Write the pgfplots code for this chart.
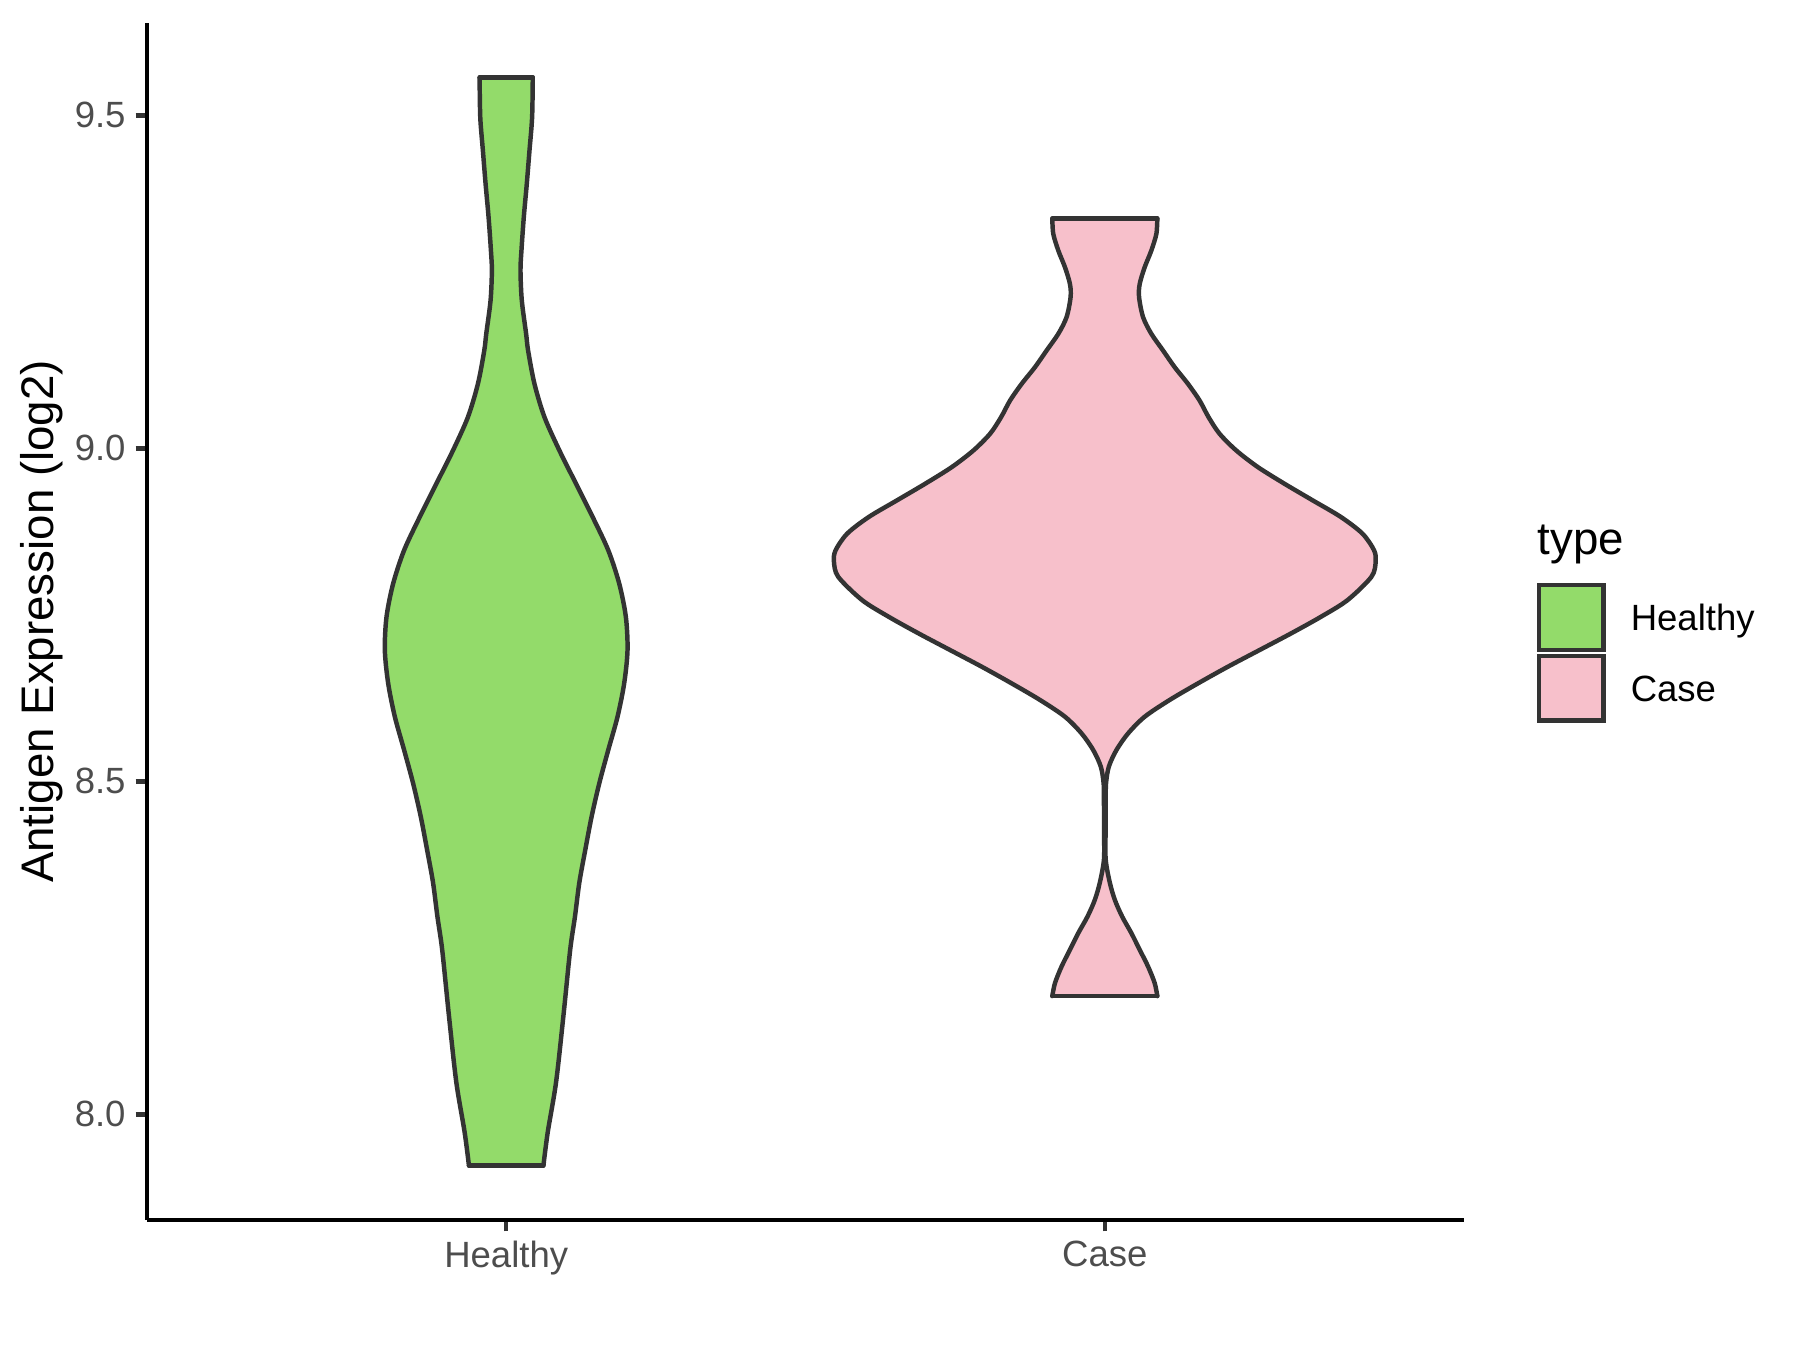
\documentclass[border=0pt]{standalone}
\usepackage{fontspec}
\setmainfont{Liberation Sans}
\usepackage{pgfplots}
\pgfplotsset{compat=1.18}
\definecolor{healthyfill}{RGB}{147,219,106}
\definecolor{casefill}{RGB}{247,192,203}
\definecolor{grey20}{RGB}{51,51,51}
\definecolor{grey30}{RGB}{77,77,77}
\begin{document}
\begin{tikzpicture}
\useasboundingbox (0,0) rectangle (432bp,324bp);
\begin{axis}[
  at={(35.28bp,31.2bp)}, anchor=south west,
  scale only axis, width=316.08bp, height=287.28bp,
  xmin=0.4, xmax=2.6, ymin=7.8413, ymax=9.6387,
  clip mode=individual,
  axis x line*=bottom, axis y line*=left,
  axis line style={black, line width=1.07bp},
  xtick={1,2}, xticklabels={Healthy,Case},
  ytick={8,8.5,9,9.5},
  y tick label style={/pgf/number format/fixed, /pgf/number format/fixed zerofill, /pgf/number format/precision=1},
  /pgf/number format/assume math mode=true,
  tick align=outside, major tick length=2.75bp,
  tick style={grey20, line width=1.07bp},
  ticklabel style={font=\fontsize{8.8}{10}\selectfont, text=grey30, inner sep=0pt},
  xticklabel style={anchor=north, yshift=-2.2bp},
  yticklabel style={anchor=east, xshift=-2.2bp},
  every axis y label/.style={at={(axis description cs:0,0.5)}, rotate=90, anchor=center, yshift=25.2bp, inner sep=0pt, font=\fontsize{11}{13}\selectfont, text=black},
  ylabel={Antigen Expression (log2)},
  legend style={at={(axis description cs:1.0552,0.5322)}, anchor=north west, draw=none, fill=none, inner sep=0pt, outer sep=0pt, row sep=0.4bp, column sep=6.0bp, font=\fontsize{8.8}{10}\selectfont, text=black, cells={anchor=base west}, nodes={inner sep=0pt}},
  outline/.style={draw=grey20, line width=1.07bp, line cap=round, line join=round, forget plot},
]
% ---------- Healthy (x = 1) ----------
\addplot[fill=healthyfill, draw=none,
  legend image code/.code={\draw[fill=healthyfill, draw=grey20, line width=1.07bp] (0.15bp,-4.6bp) rectangle (15.65bp,10.9bp);}]
coordinates {
(0.9556,9.557) (0.9567,9.497) (0.9611,9.447) (0.9656,9.397) (0.9706,9.347) (0.9745,9.297) (0.9761,9.267) (0.9739,9.222) (0.9667,9.172) (0.9634,9.147) (0.9528,9.097) (0.9361,9.047) (0.9112,8.997) (0.8834,8.947) (0.8556,8.897) (0.8295,8.847) (0.8112,8.797) (0.8001,8.747) (0.7973,8.697) (0.8029,8.647) (0.8140,8.597) (0.8295,8.547) (0.8445,8.497) (0.8573,8.447) (0.8679,8.397) (0.8778,8.348) (0.8851,8.297) (0.8931,8.247) (0.9045,8.147) (0.9167,8.048) (0.9306,7.973) (0.9378,7.923)
(1.0622,7.923) (1.0694,7.973) (1.0833,8.048) (1.0955,8.147) (1.1069,8.247) (1.1149,8.297) (1.1222,8.348) (1.1321,8.397) (1.1427,8.447) (1.1555,8.497) (1.1705,8.547) (1.1860,8.597) (1.1971,8.647) (1.2027,8.697) (1.1999,8.747) (1.1888,8.797) (1.1705,8.847) (1.1444,8.897) (1.1166,8.947) (1.0888,8.997) (1.0639,9.047) (1.0472,9.097) (1.0366,9.147) (1.0333,9.172) (1.0261,9.222) (1.0239,9.267) (1.0255,9.297) (1.0294,9.347) (1.0344,9.397) (1.0389,9.447) (1.0433,9.497) (1.0444,9.557)
} -- cycle;
\addlegendentry{Healthy}
\addplot[outline, smooth, tension=0.5] coordinates {
(0.9556,9.557) (0.9567,9.497) (0.9611,9.447) (0.9656,9.397) (0.9706,9.347) (0.9745,9.297) (0.9761,9.267) (0.9739,9.222) (0.9667,9.172) (0.9634,9.147) (0.9528,9.097) (0.9361,9.047) (0.9112,8.997) (0.8834,8.947) (0.8556,8.897) (0.8295,8.847) (0.8112,8.797) (0.8001,8.747) (0.7973,8.697) (0.8029,8.647) (0.8140,8.597) (0.8295,8.547) (0.8445,8.497) (0.8573,8.447) (0.8679,8.397) (0.8778,8.348) (0.8851,8.297) (0.8931,8.247) (0.9045,8.147) (0.9167,8.048) (0.9306,7.973) (0.9378,7.923)};
\addplot[outline, smooth, tension=0.5] coordinates {
(1.0622,7.923) (1.0694,7.973) (1.0833,8.048) (1.0955,8.147) (1.1069,8.247) (1.1149,8.297) (1.1222,8.348) (1.1321,8.397) (1.1427,8.447) (1.1555,8.497) (1.1705,8.547) (1.1860,8.597) (1.1971,8.647) (1.2027,8.697) (1.1999,8.747) (1.1888,8.797) (1.1705,8.847) (1.1444,8.897) (1.1166,8.947) (1.0888,8.997) (1.0639,9.047) (1.0472,9.097) (1.0366,9.147) (1.0333,9.172) (1.0261,9.222) (1.0239,9.267) (1.0255,9.297) (1.0294,9.347) (1.0344,9.397) (1.0389,9.447) (1.0433,9.497) (1.0444,9.557)};
\addplot[outline] coordinates {(0.9556,9.557) (1.0444,9.557)};
\addplot[outline] coordinates {(0.9378,7.923) (1.0622,7.923)};
% ---------- Case (x = 2) ----------
\addplot[fill=casefill, draw=none,
  legend image code/.code={\draw[fill=casefill, draw=grey20, line width=1.07bp] (0.15bp,-4.6bp) rectangle (15.65bp,10.9bp);}]
coordinates {
(1.9123,9.345) (1.9139,9.322) (1.9223,9.297) (1.9334,9.272) (1.9417,9.247) (1.9428,9.227) (1.9361,9.197) (1.9223,9.172) (1.9028,9.147) (1.8834,9.122) (1.8612,9.097) (1.8418,9.072) (1.8268,9.047) (1.8084,9.022) (1.7807,8.997) (1.7446,8.972) (1.7002,8.947) (1.6530,8.922) (1.6058,8.897) (1.5697,8.872) (1.5503,8.847) (1.5475,8.830) (1.5547,8.807) (1.5947,8.772) (1.6391,8.747) (1.6891,8.722) (1.7418,8.697) (1.7946,8.672) (1.8445,8.647) (1.8920,8.622) (1.9334,8.597) (1.9611,8.572) (1.9806,8.547) (1.9933,8.522) (1.9980,8.497) (1.9985,8.472) (1.9988,8.422) (1.9985,8.382) (1.9917,8.348) (1.9833,8.322) (1.9711,8.297) (1.9556,8.272) (1.9417,8.247) (1.9278,8.222) (1.9167,8.197) (1.9123,8.1775)
(2.0877,8.1775) (2.0833,8.197) (2.0722,8.222) (2.0583,8.247) (2.0444,8.272) (2.0289,8.297) (2.0167,8.322) (2.0083,8.348) (2.0015,8.382) (2.0012,8.422) (2.0015,8.472) (2.0020,8.497) (2.0067,8.522) (2.0194,8.547) (2.0389,8.572) (2.0666,8.597) (2.1080,8.622) (2.1555,8.647) (2.2054,8.672) (2.2582,8.697) (2.3109,8.722) (2.3609,8.747) (2.4053,8.772) (2.4453,8.807) (2.4525,8.830) (2.4497,8.847) (2.4303,8.872) (2.3942,8.897) (2.3470,8.922) (2.2998,8.947) (2.2554,8.972) (2.2193,8.997) (2.1916,9.022) (2.1732,9.047) (2.1582,9.072) (2.1388,9.097) (2.1166,9.122) (2.0972,9.147) (2.0777,9.172) (2.0639,9.197) (2.0572,9.227) (2.0583,9.247) (2.0666,9.272) (2.0777,9.297) (2.0861,9.322) (2.0877,9.345)
} -- cycle;
\addlegendentry{Case}
\addplot[outline, smooth, tension=0.5] coordinates {
(1.9123,9.345) (1.9139,9.322) (1.9223,9.297) (1.9334,9.272) (1.9417,9.247) (1.9428,9.227) (1.9361,9.197) (1.9223,9.172) (1.9028,9.147) (1.8834,9.122) (1.8612,9.097) (1.8418,9.072) (1.8268,9.047) (1.8084,9.022) (1.7807,8.997) (1.7446,8.972) (1.7002,8.947) (1.6530,8.922) (1.6058,8.897) (1.5697,8.872) (1.5503,8.847) (1.5475,8.830) (1.5547,8.807) (1.5947,8.772) (1.6391,8.747) (1.6891,8.722) (1.7418,8.697) (1.7946,8.672) (1.8445,8.647) (1.8920,8.622) (1.9334,8.597) (1.9611,8.572) (1.9806,8.547) (1.9933,8.522) (1.9980,8.497) (1.9985,8.472) (1.9988,8.422) (1.9985,8.382) (1.9917,8.348) (1.9833,8.322) (1.9711,8.297) (1.9556,8.272) (1.9417,8.247) (1.9278,8.222) (1.9167,8.197) (1.9123,8.1775)};
\addplot[outline, smooth, tension=0.5] coordinates {
(2.0877,8.1775) (2.0833,8.197) (2.0722,8.222) (2.0583,8.247) (2.0444,8.272) (2.0289,8.297) (2.0167,8.322) (2.0083,8.348) (2.0015,8.382) (2.0012,8.422) (2.0015,8.472) (2.0020,8.497) (2.0067,8.522) (2.0194,8.547) (2.0389,8.572) (2.0666,8.597) (2.1080,8.622) (2.1555,8.647) (2.2054,8.672) (2.2582,8.697) (2.3109,8.722) (2.3609,8.747) (2.4053,8.772) (2.4453,8.807) (2.4525,8.830) (2.4497,8.847) (2.4303,8.872) (2.3942,8.897) (2.3470,8.922) (2.2998,8.947) (2.2554,8.972) (2.2193,8.997) (2.1916,9.022) (2.1732,9.047) (2.1582,9.072) (2.1388,9.097) (2.1166,9.122) (2.0972,9.147) (2.0777,9.172) (2.0639,9.197) (2.0572,9.227) (2.0583,9.247) (2.0666,9.272) (2.0777,9.297) (2.0861,9.322) (2.0877,9.345)};
\addplot[outline] coordinates {(1.9123,9.345) (2.0877,9.345)};
\addplot[outline] coordinates {(1.9123,8.1775) (2.0877,8.1775)};
\node[anchor=base west, inner sep=0pt, font=\fontsize{11}{13}\selectfont, text=black] at (axis description cs:1.0552,0.5556) {type};
\end{axis}
\end{tikzpicture}
\end{document}
